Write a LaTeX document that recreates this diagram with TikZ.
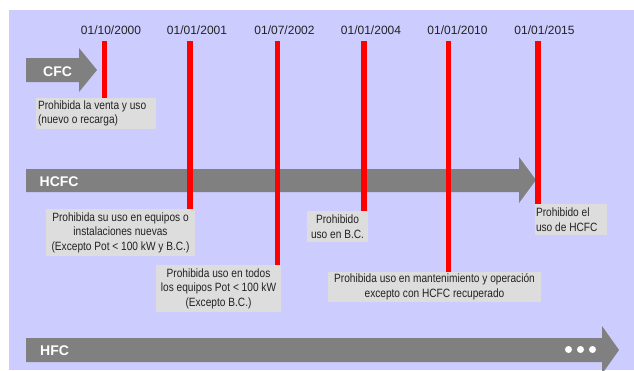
\documentclass[tikz,border=0pt]{standalone}
\usepackage{fontspec}
\setmainfont{Liberation Sans}
\newfontfamily\condfont[FakeStretch=0.845]{Liberation Sans}
\definecolor{lav}{HTML}{CCCCFF}
\definecolor{arrowgrey}{HTML}{808080}
\definecolor{boxgrey}{HTML}{DDDDDD}
\definecolor{txt}{HTML}{222222}
\tikzset{
  datelbl/.style={anchor=base, font=\fontsize{12}{14}\selectfont, text=txt, inner sep=0pt},
  boxnote/.style={fill=boxgrey, inner sep=0pt, anchor=center, text=txt,
     font=\condfont\fontsize{12}{14.5}\selectfont},
  redline/.style={draw=red, line width=5.5pt},
  arrowlbl/.style={anchor=base west, text=white, inner sep=0pt, font=\bfseries\fontsize{14}{16}\selectfont},
  dot/.style={circle, fill=white, inner sep=0pt, minimum size=7pt}
}
\begin{document}
\begin{tikzpicture}[x=1pt,y=-1pt]
\useasboundingbox (0,0) rectangle (634,370);
\clip (0,0) rectangle (634,370);
\fill[lav] (9,10) rectangle (634,370);
% arrows
\fill[arrowgrey] (26,58) -- (79,58) -- (79,48) -- (97,70) -- (79,92) -- (79,82) -- (26,82) -- cycle;
\fill[arrowgrey] (26,169) -- (519,169) -- (519,157) -- (536,180) -- (519,203) -- (519,192) -- (26,192) -- cycle;
\fill[arrowgrey] (26,338) -- (602,338) -- (602,326) -- (619,350) -- (602,374) -- (602,362) -- (26,362) -- cycle;
\node[arrowlbl] (cfc) at (43,76) {CFC};
\node[arrowlbl] (hcfc) at (39.5,186.5) {HCFC};
\node[arrowlbl] (hfc) at (40,355.5) {HFC};
\node[dot] (d1) at (568.5,349.5) {};
\node[dot] (d2) at (580.5,349.5) {};
\node[dot] (d3) at (592.5,349.5) {};
% dates
\node[datelbl] (l1) at (111,34.3) {01/10/2000};
\node[datelbl] (l2) at (197,34.3) {01/01/2001};
\node[datelbl] (l3) at (284.5,34.3) {01/07/2002};
\node[datelbl] (l4) at (371,34.3) {01/01/2004};
\node[datelbl] (l5) at (457.5,34.3) {01/01/2010};
\node[datelbl] (l6) at (544.5,34.3) {01/01/2015};
% line tops
\coordinate (t1) at (104.5,41);
\coordinate (t2) at (190,41);
\coordinate (t3) at (277.5,41);
\coordinate (t4) at (364,41);
\coordinate (t5) at (448.5,41);
\coordinate (t6) at (538,41);
% box centres
\path
  (96,113.5) coordinate (c1)
  (120.5,232.5) coordinate (c2)
  (218.5,288.5) coordinate (c3)
  (337.5,226.5) coordinate (c4)
  (434.5,287) coordinate (c5)
  (571,219.5) coordinate (c6);
% red lines
\draw[redline] (t1) -- (t1 |- 0,98);
\draw[redline] (t2) -- (t2 |- 0,209.5);
\draw[redline] (t3) -- (t3 |- 0,265.5);
\draw[redline] (t4) -- (t4 |- 0,211.5);
\draw[redline] (t5) -- (t5 |- 0,272);
\draw[redline] (t6) -- (t6 |- 0,204.5);
% boxes
\node[boxnote, minimum width=120pt, minimum height=31pt] (b1) at (c1) {};
\node[anchor=west, inner sep=0pt, text=txt, font=\condfont\fontsize{12}{14.5}\selectfont, align=left] (b1t) at ([xshift=2pt]b1.west)
  {Prohibida la venta y uso\\(nuevo o recarga)};
\node[boxnote, minimum width=149pt, minimum height=47pt, align=center] (b2) at (c2)
  {Prohibida su uso en equipos o\\instalaciones nuevas\\(Excepto Pot < 100 kW y B.C.)};
\node[boxnote, minimum width=125pt, minimum height=47pt, align=center] (b3) at (c3)
  {Prohibida uso en todos\\los equipos Pot < 100 kW\\(Excepto B.C.)};
\node[boxnote, minimum width=61pt, minimum height=31pt, align=center] (b4) at (c4)
  {Prohibido\\uso en B.C.};
\node[boxnote, minimum width=213pt, minimum height=30pt, align=center] (b5) at (c5)
  {Prohibida uso en mantenimiento y operación\\excepto con HCFC recuperado};
\node[boxnote, minimum width=72pt, minimum height=31pt] (b6) at (c6) {};
\node[anchor=west, inner sep=0pt, text=txt, font=\condfont\fontsize{12}{14.5}\selectfont, align=left] (b6t) at ([xshift=1pt]b6.west)
  {Prohibido el\\uso de HCFC};
\end{tikzpicture}
\end{document}
